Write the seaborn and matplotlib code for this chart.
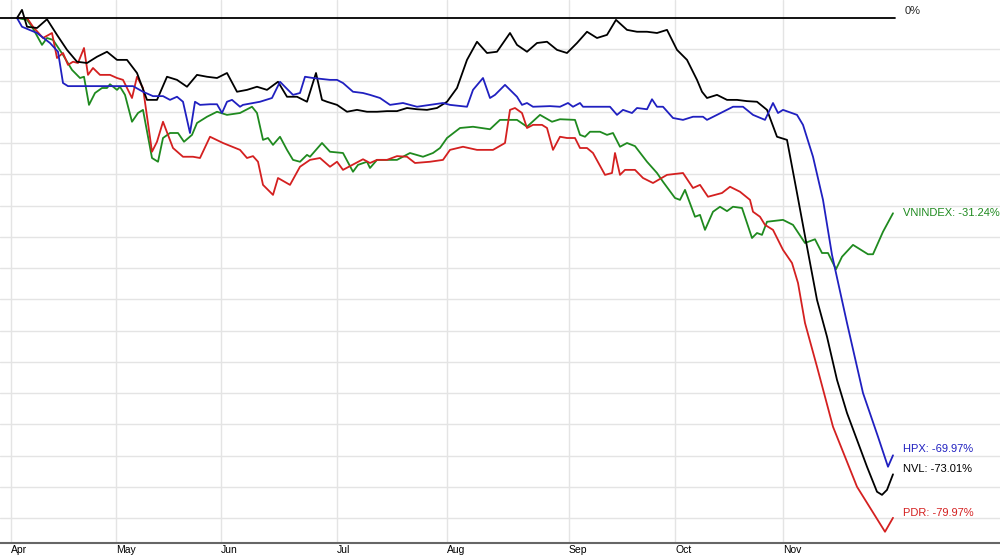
import matplotlib
matplotlib.use("Agg")
import matplotlib.pyplot as plt
import seaborn as sns
import pandas as pd

# x = trading-day index since start (early April), y = % change
nvl_x = [0,1,2,4,6,8,10,12,14,16,18,20,22,24,26,28,30,32,34,36,38,40,42,44,46,48,50,52.2,54,56,58,59.8,61,62,64,66,68,70,72,74,76,78,80,82,84,86,88,90,92,94,96,98.6,100,102,104,106,108,110,112,114,116,118,119.8,122,124,126,128,130,132,134,135,136,137,138,140,142,144,146,148,150,152,154,156,158,160,162,164,166,168,170,172,173,174,175.2]
nvl_y = [0,1.3,-1.4,-1.6,-0.2,-2.7,-5.1,-7.0,-7.2,-6.2,-5.4,-6.7,-6.7,-8.8,-13.1,-13.1,-9.4,-9.9,-11.0,-9.1,-9.4,-9.6,-8.8,-11.8,-11.5,-11.0,-11.5,-10.2,-12.6,-12.6,-13.4,-8.8,-13.1,-13.4,-13.9,-15.0,-14.7,-15.0,-15.0,-14.9,-14.9,-14.4,-14.6,-14.7,-14.4,-13.4,-11.2,-6.7,-3.8,-5.6,-5.4,-2.4,-4.3,-5.4,-4.0,-3.8,-5.1,-5.6,-4.0,-2.2,-3.2,-2.7,-0.3,-1.9,-2.2,-2.2,-2.4,-1.9,-5.1,-6.7,-8.3,-9.9,-11.8,-12.8,-12.3,-13.1,-13.1,-13.3,-13.4,-14.7,-19.0,-19.5,-28.0,-36.6,-45.1,-51.0,-57.9,-63.2,-67.5,-71.8,-75.8,-76.3,-75.5,-73.01]

hpx_x = [0,1,4,6.6,8.2,9.2,10.2,23.2,25.2,27.2,29.2,30.6,32,33.2,34.6,35.6,36.6,38.6,40,41,42,43,44.6,45.2,48.6,51,52.6,54.2,55.2,56.6,57.6,59.2,62.6,64,65.2,67.2,69.2,70.6,72.6,74.6,77.2,80,82.6,85.2,86.6,90,91.2,93.2,94.6,95.6,97.6,100,101,102,103.2,106.6,108.6,110.2,111.2,112.6,113.2,118.6,120,121.2,123,124,126,127,128,129.2,131.2,133.2,135.2,137.2,138,140,143.2,145.2,147.2,149.6,151.2,152.2,153.2,156,157.2,159.2,161.2,163,166,169.2,172.2,174.2,175.2]
hpx_y = [0,-1.4,-2.4,-4.0,-5.4,-10.4,-10.9,-10.9,-11.8,-12.5,-12.5,-13.1,-12.6,-13.4,-18.4,-13.4,-13.9,-13.8,-13.8,-15.2,-13.4,-13.1,-14.2,-13.9,-13.4,-12.8,-10.2,-11.5,-12.3,-12.0,-9.4,-9.6,-9.9,-9.9,-10.4,-11.8,-12.0,-12.3,-12.8,-13.9,-13.6,-14.2,-13.9,-13.6,-13.9,-14.2,-11.5,-9.6,-12.8,-12.3,-10.7,-12.6,-13.9,-13.6,-14.2,-14.1,-14.2,-13.6,-14.2,-13.6,-14.2,-14.2,-15.5,-14.7,-15.2,-14.4,-14.6,-13.0,-14.2,-14.2,-16.0,-16.3,-15.8,-15.8,-16.3,-15.5,-14.2,-14.2,-15.5,-16.3,-13.6,-15.2,-14.7,-15.5,-17.1,-22.2,-29.1,-37.9,-48.8,-60.0,-67.0,-71.8,-69.97]

pdr_x = [0,2,3.2,5.2,7,8,9.2,10.2,11.2,12.2,13.4,14.2,15.2,16.6,18.6,20,21.2,23,24,25.2,27,28,29.2,31.2,33.2,35.2,36.6,38.6,41.2,44.6,46,47.2,48.2,49.2,51.2,52.2,54.6,56.6,58.6,60.6,62.6,64,65.2,66.6,69.2,70.6,72,74,76,78,79.6,82.6,85.2,86.6,89.2,92,95.2,97.6,98.6,99.6,101,102,103.2,105,106,107.2,108.6,110,111.6,112.6,114,115.2,117.6,119,119.6,120.6,121.6,123.6,125.2,127.2,130,133.2,135.2,136.6,138.2,141,142.6,144.6,146.6,147.2,148.6,149.6,151.2,153.2,155,156.2,157.6,160,163.2,168,173.6,175.2]
pdr_y = [0,0,-1.4,-3.2,-2.4,-6.4,-5.6,-7.5,-7.0,-7.2,-4.8,-9.1,-8.0,-9.1,-9.1,-9.6,-9.9,-12.8,-9.4,-11.2,-21.4,-19.8,-16.6,-20.8,-22.2,-22.2,-22.4,-19.0,-20.0,-21.1,-22.4,-22.1,-23.0,-26.7,-28.3,-25.6,-26.7,-23.8,-22.7,-22.4,-23.8,-23.0,-24.3,-23.7,-22.6,-23.2,-22.7,-22.7,-22.1,-22.2,-23.2,-23.0,-22.7,-21.1,-20.6,-21.1,-21.1,-20.0,-14.7,-14.4,-15.2,-17.6,-17.1,-17.1,-17.6,-21.1,-19.0,-19.2,-19.2,-20.8,-20.8,-21.6,-25.1,-24.8,-21.6,-25.1,-24.3,-24.3,-25.6,-26.4,-25.1,-24.8,-27.2,-26.7,-28.6,-28.0,-27.0,-27.8,-29.1,-31.0,-31.8,-33.1,-33.9,-37.1,-39.2,-42.4,-48.8,-55.8,-65.4,-75.0,-82.2,-79.97]

vni_x = [0,2,3,5,6,7.2,9.2,11,12.6,13.4,14.4,15.6,17,18,18.6,20,20.6,21.6,23,24.2,25.2,27,28.2,29.2,30.6,32.2,33.4,35,36,38,40,42,44.6,47,48,49.2,50.2,51.2,52.6,54,55.2,56.6,58,58.6,61,62.6,65.2,67.2,68.2,70,70.6,72,76,78.6,81.2,83.2,84.6,86,88.6,91.2,94.6,96.6,100,102,104.6,107,108.6,111.6,112.6,113.6,114.6,116.6,118,119.2,120.6,122,123.6,126,128,129.2,131.6,132.6,133.6,135.6,136.6,137.6,139.2,140.6,142,143.2,145,147,148,149,150,153.2,155.2,157.6,159.6,161,162.2,163.8,165,167.2,170.2,171.2,173.2,175.2]
vni_y = [0,-0.3,-1.4,-4.3,-3.2,-3.5,-5.9,-8.3,-9.6,-9.4,-13.9,-12.0,-11.2,-11.2,-10.6,-11.5,-11.0,-12.3,-16.6,-15.2,-14.7,-22.4,-23.0,-19.2,-18.4,-18.4,-19.8,-18.7,-16.8,-15.8,-15.0,-15.5,-15.2,-14.2,-15.2,-19.5,-19.2,-20.3,-19.0,-21.1,-22.7,-23.0,-21.9,-22.2,-20.0,-21.4,-21.6,-24.6,-23.5,-23.0,-24.0,-22.7,-22.7,-21.6,-22.2,-21.6,-20.8,-19.2,-17.6,-17.4,-17.8,-16.3,-16.3,-17.4,-15.5,-16.6,-16.2,-16.3,-18.7,-19.0,-18.2,-18.2,-18.7,-18.4,-20.6,-20.0,-20.5,-23.0,-24.8,-26.2,-28.8,-29.1,-27.5,-31.8,-31.5,-33.9,-31.0,-30.2,-30.9,-30.2,-30.4,-35.2,-34.4,-34.7,-32.6,-32.3,-33.1,-36.0,-35.4,-37.6,-37.6,-40.2,-38.2,-36.3,-37.8,-37.8,-34.2,-31.24]

month_pos = [-1.2, 19.8, 40.8, 64, 86, 110.4, 131.6, 153.2]
month_labels = ["Apr", "May", "Jun", "Jul", "Aug", "Sep", "Oct", "Nov"]

series = [("VNINDEX", vni_x, vni_y, "#1f8a1f"),
          ("PDR", pdr_x, pdr_y, "#d42020"),
          ("NVL", nvl_x, nvl_y, "#000000"),
          ("HPX", hpx_x, hpx_y, "#2020c0")]

sns.set_style("white")
plt.rcParams['font.family'] = ['Liberation Sans', 'DejaVu Sans']

fig = plt.figure(figsize=(10, 5.55), dpi=100)
ax = fig.add_axes([0, 12/555, 1, 543/555])

for name, xs, ys, c in series:
    df = pd.DataFrame({"d": xs, "v": ys})
    sns.lineplot(data=df, x="d", y="v", ax=ax, color=c, linewidth=1.3, sort=False, estimator=None)

ax.set_xlim(-3.4, 196.6)
ax.set_ylim(-84.0, 2.88)
for yv in range(-5, -85, -5):
    ax.axhline(yv, color="#e4e4e4", linewidth=1, zorder=0)
for xv in month_pos:
    ax.axvline(xv, color="#e4e4e4", linewidth=1, zorder=0)
ax.axhline(0, color="black", linewidth=1.3, xmax=(175.6 + 3.4) / 200)
ax.text(177.6, 0.4, "0%", fontsize=8, va="bottom", ha="left")

ends = [("VNINDEX", vni_y[-1], "#1f8a1f", -31.24),
        ("HPX", hpx_y[-1], "#2020c0", -69.0),
        ("NVL", nvl_y[-1], "#000000", -72.2),
        ("PDR", pdr_y[-1], "#d42020", -79.2)]
for name, v, c, ypos in ends:
    ax.text(177.2, ypos, f"{name}: {v:.2f}%", color=c, fontsize=8, va="center", ha="left")

ax.set_xticks(month_pos)
ax.set_xticklabels(month_labels, ha="left", fontsize=7.5)
ax.tick_params(axis="x", length=3, direction="inout", pad=0, colors="#333333", labelcolor="black")
for lbl in ax.get_xticklabels():
    lbl.set_x(lbl.get_position()[0])
ax.set_yticks([])
ax.set_xlabel("")
ax.set_ylabel("")
for s in ["top", "right", "left"]:
    ax.spines[s].set_visible(False)
ax.spines["bottom"].set_color("#666666")
ax.spines["bottom"].set_linewidth(1.5)

fig.savefig("out.png", dpi=100)
